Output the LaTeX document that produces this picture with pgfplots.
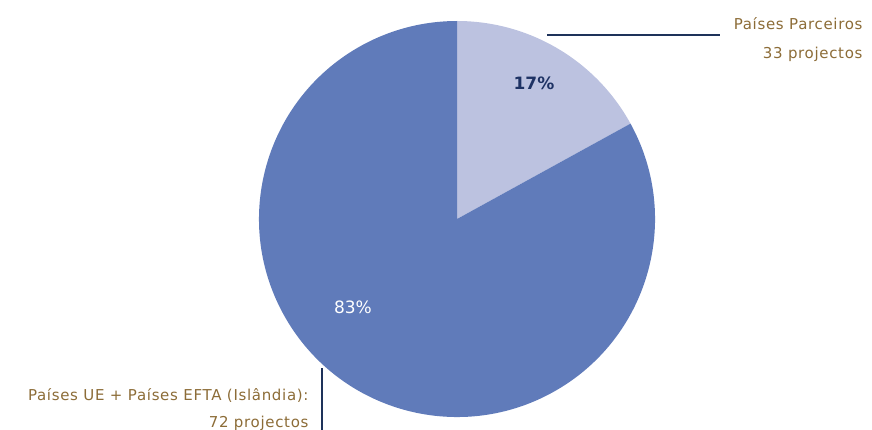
\documentclass[border=0pt]{standalone}
\usepackage{pgfplots}
\usepackage{pgfplotstable}
\pgfplotsset{compat=1.18}
\usepackage{fontspec}
\setmainfont{DejaVu Sans}
\newfontfamily\labfont[LetterSpace=4.5]{DejaVu Sans}
\definecolor{sliceA}{RGB}{188,194,224}
\definecolor{sliceB}{RGB}{96,123,186}
\definecolor{leader}{RGB}{30,50,90}
\definecolor{labtxt}{RGB}{140,108,55}
\definecolor{pctA}{RGB}{30,50,100}
\pgfplotstableread{
label value
Parceiros 17
UE 83
}\piedata
\begin{document}
\begin{tikzpicture}
\pgfplotstablegetelem{0}{value}\of\piedata \global\let\va\pgfplotsretval
\pgfplotstablegetelem{1}{value}\of\piedata \global\let\vb\pgfplotsretval
\begin{axis}[
  width=872pt, height=430pt, scale only axis,
  xmin=0, xmax=872, ymin=0, ymax=430, y dir=reverse,
  hide axis, clip=false]
\addplot[draw=none] coordinates {(0,0) (872,430)};
% slices
\fill[sliceA] (axis cs:457,219) -- ++(90:198pt) arc[start angle=90, end angle={90-3.6*\va}, radius=198pt] -- cycle;
\fill[sliceB] (axis cs:457,219) -- ++({90-3.6*\va}:198pt) arc[start angle={90-3.6*\va}, end angle={90-3.6*\va-3.6*\vb}, radius=198pt] -- cycle;
% percentages
\node[font=\fontsize{17}{19}\selectfont\bfseries, text=pctA] at (axis cs:534,83) {\pgfmathprintnumber[fixed,precision=0,assume math mode=true]{\va}\%};
\node[font=\fontsize{17}{19}\selectfont, text=white] at (axis cs:353,307) {\pgfmathprintnumber[fixed,precision=0,assume math mode=true]{\vb}\%};
% leader lines
\draw[leader, line width=1.2pt] (axis cs:547,35) -- (axis cs:720,35);
\draw[leader, line width=1.2pt] (axis cs:322,368) -- (axis cs:322,432);
% labels
\node[anchor=east, font=\labfont\fontsize{15}{17}\selectfont, text=labtxt] at (axis cs:866,24) {Países Parceiros};
\node[anchor=east, font=\labfont\fontsize{15}{17}\selectfont, text=labtxt] at (axis cs:866,54) {33 projectos};
\node[anchor=east, font=\labfont\fontsize{15}{17}\selectfont, text=labtxt] at (axis cs:312,395) {Países UE + Países EFTA (Islândia):};
\node[anchor=east, font=\labfont\fontsize{15}{17}\selectfont, text=labtxt] at (axis cs:312,423) {72 projectos};
\end{axis}
\pgfresetboundingbox
\useasboundingbox (current axis.south west) rectangle (current axis.north east);
\end{tikzpicture}
\end{document}
